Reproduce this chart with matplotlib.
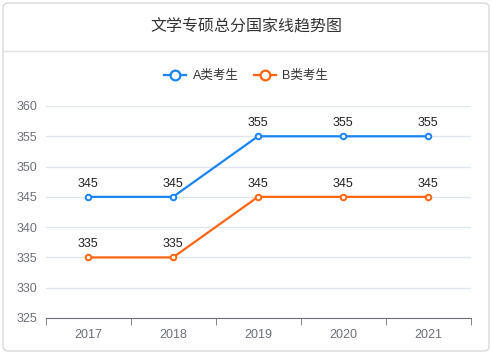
import matplotlib.pyplot as plt
from matplotlib.patches import FancyBboxPatch
from matplotlib.lines import Line2D

plt.rcParams['font.family'] = ['Liberation Sans', 'Noto Sans CJK SC', 'DejaVu Sans']

years = ['2017', '2018', '2019', '2020', '2021']
score_a = [345, 345, 355, 355, 355]
score_b = [335, 335, 345, 345, 345]
series = [('A类考生', score_a, '#1a84f7'), ('B类考生', score_b, '#ff6410')]

W, H = 492, 354
fig = plt.figure(figsize=(W / 100, H / 100), dpi=100)

# card background with rounded border, kept behind the axes
card = FancyBboxPatch((3 / W, 3 / H), 486 / W, 348 / H,
                      boxstyle='round,pad=0,rounding_size=0.012',
                      transform=fig.transFigure, facecolor='white',
                      edgecolor='#d9d9d9', linewidth=1, zorder=-5)
fig.patches.append(card)
fig.add_artist(Line2D([3 / W, 489 / W], [1 - 51 / H, 1 - 51 / H],
                      transform=fig.transFigure, color='#e3e3e3', lw=1, zorder=-4))
fig.text(0.5, 1 - 27 / H, '文学专硕总分国家线趋势图', ha='center', va='center',
         fontsize=11.5, color='#333333')

ax = fig.add_axes([45.5 / W, 36 / H, 425 / W, 212 / H])
x = range(len(years))
for name, vals, color in series:
    ax.plot(x, vals, color=color, lw=1.6, marker='o', markersize=4,
            markerfacecolor='white', markeredgewidth=1.4, label=name, zorder=3)
    for xi, v in zip(x, vals):
        ax.annotate(str(v), (xi, v), xytext=(0, 5), textcoords='offset points',
                    ha='center', va='bottom', fontsize=9, color='#222222')

ax.set_xlim(-0.5, len(years) - 0.5)
ax.set_ylim(325, 360)
ax.set_yticks(range(325, 361, 5))
ax.set_xticks(list(x))
ax.set_xticklabels(years)
ax.set_xticks([i + 0.5 for i in range(-1, len(years))], minor=True)
ax.tick_params(axis='x', which='major', length=0, pad=8, labelsize=9,
               labelcolor='#6e7079')
ax.tick_params(axis='x', which='minor', length=5, color='#6e7079', direction='out')
ax.tick_params(axis='y', length=0, pad=6, labelsize=9, labelcolor='#6e7079')
ax.grid(axis='y', color='#e0e6f1', lw=1)
ax.set_axisbelow(True)
for side in ['top', 'right', 'left']:
    ax.spines[side].set_visible(False)
ax.spines['bottom'].set_color('#6e7079')
ax.patch.set_alpha(0)

handles = [Line2D([], [], color=c, lw=1.6, marker='o', markersize=7,
                  markerfacecolor='white', markeredgewidth=1.6) for _, _, c in series]
fig.legend(handles, [s[0] for s in series], loc='center',
           bbox_to_anchor=(0.5, 1 - 76 / H), ncol=2, frameon=False,
           fontsize=9, handlelength=1.8, columnspacing=1.2, handletextpad=0.5,
           labelcolor='#333333')

fig.savefig('out.png', dpi=100)
